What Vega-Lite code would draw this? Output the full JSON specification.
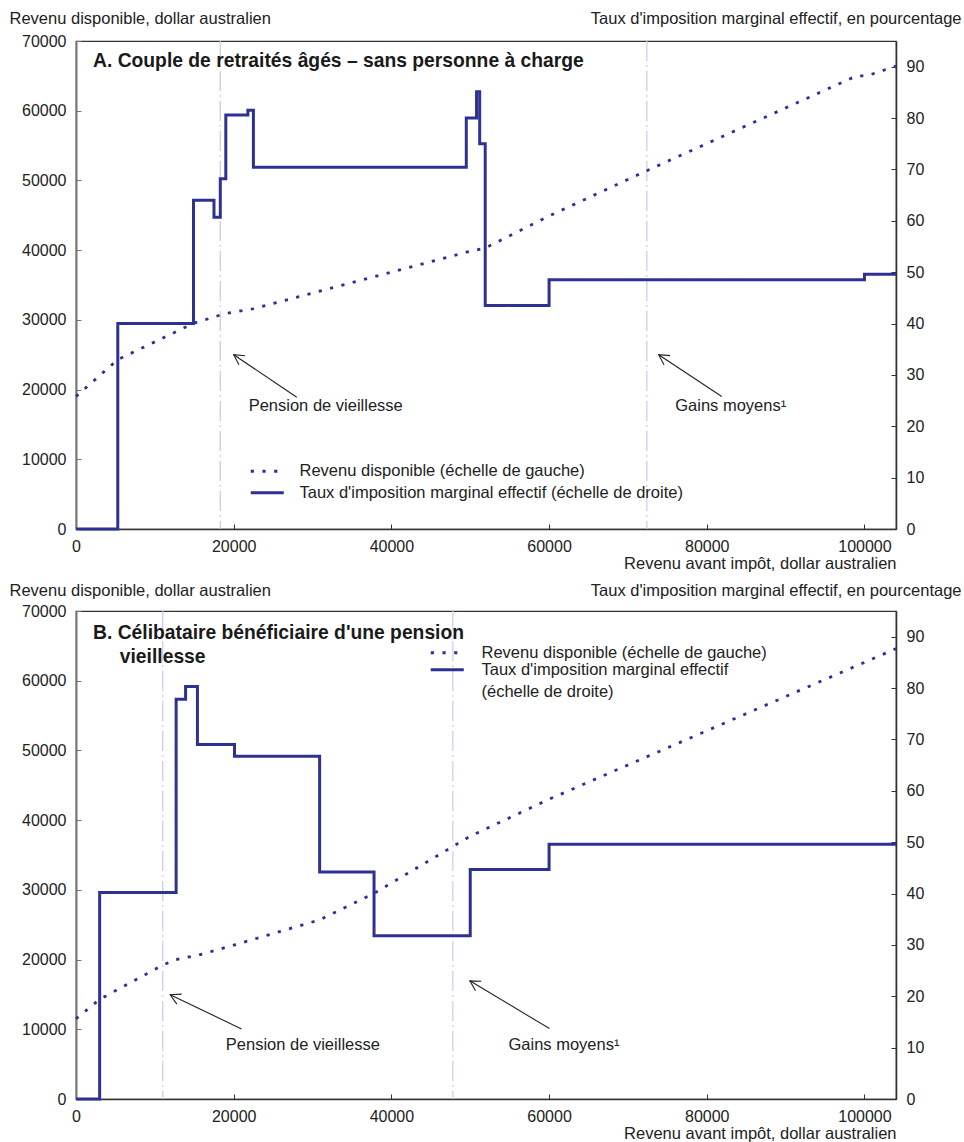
{
  "$schema": "https://vega.github.io/schema/vega-lite/v6.json",
  "background": "white",
  "padding": {"left": 8, "top": 9, "right": 4, "bottom": 4},
  "bounds": "flush",
  "spacing": 82,
  "datasets": {
    "revenu": [
      {"p": "A", "avant": 0, "disponible": 19000},
      {"p": "A", "avant": 5300, "disponible": 24300},
      {"p": "A", "avant": 14900, "disponible": 29500},
      {"p": "A", "avant": 17500, "disponible": 30400},
      {"p": "A", "avant": 18300, "disponible": 30700},
      {"p": "A", "avant": 19000, "disponible": 30900},
      {"p": "A", "avant": 22500, "disponible": 31600},
      {"p": "A", "avant": 49500, "disponible": 39700},
      {"p": "A", "avant": 51900, "disponible": 40300},
      {"p": "A", "avant": 60000, "disponible": 44900},
      {"p": "A", "avant": 72400, "disponible": 51400},
      {"p": "A", "avant": 99000, "disponible": 65000},
      {"p": "A", "avant": 100300, "disponible": 65000},
      {"p": "A", "avant": 104000, "disponible": 66400},
      {"p": "B", "avant": 0, "disponible": 11500},
      {"p": "B", "avant": 3000, "disponible": 14300},
      {"p": "B", "avant": 11000, "disponible": 19200},
      {"p": "B", "avant": 12700, "disponible": 20000},
      {"p": "B", "avant": 13900, "disponible": 20300},
      {"p": "B", "avant": 15400, "disponible": 20600},
      {"p": "B", "avant": 20100, "disponible": 22100},
      {"p": "B", "avant": 30900, "disponible": 25700},
      {"p": "B", "avant": 37800, "disponible": 29500},
      {"p": "B", "avant": 50000, "disponible": 37700},
      {"p": "B", "avant": 60000, "disponible": 43000},
      {"p": "B", "avant": 104000, "disponible": 64600}
    ],
    "taux": [
      {"p": "A", "avant": 0, "taux": 0},
      {"p": "A", "avant": 5300, "taux": 40},
      {"p": "A", "avant": 14900, "taux": 64},
      {"p": "A", "avant": 17500, "taux": 60.7},
      {"p": "A", "avant": 18300, "taux": 68.2},
      {"p": "A", "avant": 19000, "taux": 80.6},
      {"p": "A", "avant": 21800, "taux": 81.5},
      {"p": "A", "avant": 22500, "taux": 70.4},
      {"p": "A", "avant": 49500, "taux": 80},
      {"p": "A", "avant": 50800, "taux": 85.1},
      {"p": "A", "avant": 51200, "taux": 75},
      {"p": "A", "avant": 51900, "taux": 43.5},
      {"p": "A", "avant": 60000, "taux": 48.5},
      {"p": "A", "avant": 100000, "taux": 49.6},
      {"p": "A", "avant": 104000, "taux": 49.6},
      {"p": "B", "avant": 0, "taux": 0},
      {"p": "B", "avant": 3000, "taux": 40.2},
      {"p": "B", "avant": 12700, "taux": 77.8},
      {"p": "B", "avant": 13900, "taux": 80.3},
      {"p": "B", "avant": 15400, "taux": 69},
      {"p": "B", "avant": 20100, "taux": 66.7},
      {"p": "B", "avant": 30900, "taux": 44.2},
      {"p": "B", "avant": 37800, "taux": 31.8},
      {"p": "B", "avant": 50000, "taux": 44.7},
      {"p": "B", "avant": 60000, "taux": 49.6},
      {"p": "B", "avant": 104000, "taux": 49.6}
    ],
    "reperes": [
      {"p": "A", "nom": "Pension de vieillesse", "avant": 18300},
      {"p": "A", "nom": "Gains moyens", "avant": 72400},
      {"p": "B", "nom": "Pension de vieillesse", "avant": 11000},
      {"p": "B", "nom": "Gains moyens", "avant": 47800}
    ],
    "notes": [
      {"p": "A", "texte": "Pension de vieillesse", "x": 21900, "y": 17700, "queue_x": 28000, "queue_y": 18900, "pointe_x": 20000, "pointe_y": 25000},
      {"p": "A", "texte": "Gains moyens¹", "x": 76000, "y": 17700, "queue_x": 81900, "queue_y": 19000, "pointe_x": 73900, "pointe_y": 25000},
      {"p": "B", "texte": "Pension de vieillesse", "x": 19000, "y": 7800, "queue_x": 21000, "queue_y": 10050, "pointe_x": 11950, "pointe_y": 14950},
      {"p": "B", "texte": "Gains moyens¹", "x": 54850, "y": 7800, "queue_x": 60050, "queue_y": 10100, "pointe_x": 49950, "pointe_y": 16950}
    ]
  },
  "vconcat": [
    {
      "width": 820,
      "height": 488,
      "title": {
        "text": "A. Couple de retraités âgés – sans personne à charge",
        "anchor": "start", "frame": "group", "orient": "top",
        "baseline": "top", "offset": 0, "dx": 17, "dy": 61,
        "fontSize": 19.3, "fontWeight": "bold", "color": "#1a1a1a"
      },
      "layer": [
        {
          "data": {"name": "reperes"},
          "transform": [{"filter": "datum.p == 'A'"}],
          "mark": {"type": "rule", "stroke": "#c9c9ea", "strokeWidth": 1.2, "strokeDash": [20, 4, 2, 4]},
          "encoding": {
            "x": {
              "field": "avant", "type": "quantitative",
              "scale": {"domain": [0, 104000], "nice": false, "zero": false},
              "axis": {
                "values": [0, 20000, 40000, 60000, 80000, 100000], "format": "d",
                "title": "Revenu avant impôt, dollar australien",
                "titleAlign": "right", "titleBaseline": "middle", "titleX": 820, "titleY": 34,
                "domainColor": "#333", "domainWidth": 1.6, "tickColor": "#333", "tickSize": -5, "labelPadding": 14
              }
            }
          }
        },
        {
          "data": {"name": "revenu"},
          "transform": [{"filter": "datum.p == 'A'"}],
          "mark": {"type": "line", "stroke": "#2d3192", "strokeWidth": 2.8},
          "encoding": {
            "x": {"field": "avant", "type": "quantitative"},
            "y": {
              "field": "disponible", "type": "quantitative",
              "scale": {"domain": [0, 70000], "nice": false, "zero": false},
              "axis": {
                "orient": "left", "values": [0, 10000, 20000, 30000, 40000, 50000, 60000, 70000], "format": "d",
                "title": "Revenu disponible, dollar australien",
                "titleAngle": 0, "titleAlign": "left", "titleBaseline": "middle", "titleX": -67, "titleY": -22.7,
                "domainColor": "#777", "domainWidth": 2, "tickColor": "#777", "tickSize": -5, "labelPadding": 15
              }
            },
            "strokeDash": {
              "datum": "Revenu disponible (échelle de gauche)",
              "scale": {
                "domain": ["Revenu disponible (échelle de gauche)", "Taux d'imposition marginal effectif (échelle de droite)"],
                "range": [[3.2, 8.5], [1, 0]]
              },
              "legend": {
                "title": null, "orient": "none", "legendX": 183, "legendY": 422, "direction": "vertical",
                "symbolType": "M-3.3,0H3.3", "symbolSize": 100, "symbolStrokeWidth": 3, "symbolStrokeColor": "#2d3192",
                "labelOffset": 24, "labelLimit": 700, "rowPadding": 4.4, "padding": 0
              }
            }
          }
        },
        {
          "data": {"name": "taux"},
          "transform": [{"filter": "datum.p == 'A'"}],
          "mark": {"type": "line", "interpolate": "step-after", "stroke": "#2d3192", "strokeWidth": 3},
          "encoding": {
            "x": {"field": "avant", "type": "quantitative"},
            "y": {
              "field": "taux", "type": "quantitative",
              "scale": {"domain": [0, 95], "nice": false, "zero": false},
              "axis": {
                "orient": "right", "values": [0, 10, 20, 30, 40, 50, 60, 70, 80, 90], "format": "d",
                "title": "Taux d'imposition marginal effectif, en pourcentage",
                "titleAngle": 0, "titleAlign": "right", "titleBaseline": "middle", "titleX": 65, "titleY": -22.7,
                "domainColor": "#333", "domainWidth": 1.6, "tickColor": "#333", "tickSize": -5, "labelPadding": 15
              }
            },
            "strokeDash": {"datum": "Taux d'imposition marginal effectif (échelle de droite)"}
          }
        },
        {
          "data": {"name": "notes"},
          "transform": [{"filter": "datum.p == 'A'"}],
          "mark": {"type": "rule", "stroke": "#222", "strokeWidth": 1.1},
          "encoding": {
            "x": {"field": "queue_x", "type": "quantitative"},
            "x2": {"field": "pointe_x"},
            "y": {"field": "queue_y", "type": "quantitative", "scale": {"domain": [0, 70000], "nice": false, "zero": false}, "axis": null},
            "y2": {"field": "pointe_y"}
          }
        },
        {
          "data": {"name": "notes"},
          "transform": [{"filter": "datum.p == 'A' && datum.texte == 'Pension de vieillesse'"}],
          "mark": {"type": "point", "shape": "M-1,-0.55L0,0L-1,0.55", "size": 400, "filled": false, "stroke": "#222", "strokeWidth": 1.1, "opacity": 1, "angle": 213.8},
          "encoding": {
            "x": {"field": "pointe_x", "type": "quantitative"},
            "y": {"field": "pointe_y", "type": "quantitative", "scale": {"domain": [0, 70000], "nice": false, "zero": false}, "axis": null}
          }
        },
        {
          "data": {"name": "notes"},
          "transform": [{"filter": "datum.p == 'A' && datum.texte != 'Pension de vieillesse'"}],
          "mark": {"type": "point", "shape": "M-1,-0.55L0,0L-1,0.55", "size": 400, "filled": false, "stroke": "#222", "strokeWidth": 1.1, "opacity": 1, "angle": 213.3},
          "encoding": {
            "x": {"field": "pointe_x", "type": "quantitative"},
            "y": {"field": "pointe_y", "type": "quantitative", "scale": {"domain": [0, 70000], "nice": false, "zero": false}, "axis": null}
          }
        },
        {
          "data": {"name": "notes"},
          "transform": [{"filter": "datum.p == 'A'"}],
          "mark": {"type": "text", "align": "left", "baseline": "middle", "fontSize": 16.5, "color": "#222"},
          "encoding": {
            "x": {"field": "x", "type": "quantitative"},
            "y": {"field": "y", "type": "quantitative", "scale": {"domain": [0, 70000], "nice": false, "zero": false}, "axis": null},
            "text": {"field": "texte"}
          }
        }
      ],
      "resolve": {"scale": {"y": "independent"}, "axis": {"y": "independent"}}
    },
    {
      "width": 820,
      "height": 488,
      "title": {
        "text": ["B. Célibataire bénéficiaire d'une pension", "\u200b\u00a0\u00a0\u00a0\u00a0\u00a0vieillesse"],
        "anchor": "start", "frame": "group", "orient": "top",
        "baseline": "top", "offset": 0, "dx": 17, "dy": 85, "lineHeight": 24,
        "fontSize": 19.3, "fontWeight": "bold", "color": "#1a1a1a"
      },
      "layer": [
        {
          "data": {"name": "reperes"},
          "transform": [{"filter": "datum.p == 'B'"}],
          "mark": {"type": "rule", "stroke": "#c9c9ea", "strokeWidth": 1.2, "strokeDash": [20, 4, 2, 4]},
          "encoding": {
            "x": {
              "field": "avant", "type": "quantitative",
              "scale": {"domain": [0, 104000], "nice": false, "zero": false},
              "axis": {
                "values": [0, 20000, 40000, 60000, 80000, 100000], "format": "d",
                "title": "Revenu avant impôt, dollar australien",
                "titleAlign": "right", "titleBaseline": "middle", "titleX": 820, "titleY": 34,
                "domainColor": "#333", "domainWidth": 1.6, "tickColor": "#333", "tickSize": -5, "labelPadding": 14
              }
            }
          }
        },
        {
          "data": {"name": "revenu"},
          "transform": [{"filter": "datum.p == 'B'"}],
          "mark": {"type": "line", "stroke": "#2d3192", "strokeWidth": 2.8},
          "encoding": {
            "x": {"field": "avant", "type": "quantitative"},
            "y": {
              "field": "disponible", "type": "quantitative",
              "scale": {"domain": [0, 70000], "nice": false, "zero": false},
              "axis": {
                "orient": "left", "values": [0, 10000, 20000, 30000, 40000, 50000, 60000, 70000], "format": "d",
                "title": "Revenu disponible, dollar australien",
                "titleAngle": 0, "titleAlign": "left", "titleBaseline": "middle", "titleX": -67, "titleY": -21,
                "domainColor": "#777", "domainWidth": 2, "tickColor": "#777", "tickSize": -5, "labelPadding": 15
              }
            },
            "strokeDash": {
              "datum": "Revenu disponible (échelle de gauche)",
              "scale": {
                "domain": ["Revenu disponible (échelle de gauche)", "Taux d'imposition marginal effectif (échelle de droite)"],
                "range": [[3.2, 8.5], [1, 0]]
              },
              "legend": {
                "title": null, "orient": "none", "legendX": 363, "legendY": 33.5, "direction": "vertical",
                "symbolType": "M-3.3,0H3.3", "symbolSize": 100, "symbolStrokeWidth": 3, "symbolStrokeColor": "#2d3192",
                "labelOffset": 26, "labelLimit": 700, "rowPadding": 0, "padding": 0,
                "labelExpr": "indexof(datum.label, 'Taux') == 0 ? [\"Taux d'imposition marginal effectif\", \"(échelle de droite)\"] : datum.label",
                "encode": {"labels": {"update": {"lineHeight": {"value": 22.4}}}}
              }
            }
          }
        },
        {
          "data": {"name": "taux"},
          "transform": [{"filter": "datum.p == 'B'"}],
          "mark": {"type": "line", "interpolate": "step-after", "stroke": "#2d3192", "strokeWidth": 3},
          "encoding": {
            "x": {"field": "avant", "type": "quantitative"},
            "y": {
              "field": "taux", "type": "quantitative",
              "scale": {"domain": [0, 95], "nice": false, "zero": false},
              "axis": {
                "orient": "right", "values": [0, 10, 20, 30, 40, 50, 60, 70, 80, 90], "format": "d",
                "title": "Taux d'imposition marginal effectif, en pourcentage",
                "titleAngle": 0, "titleAlign": "right", "titleBaseline": "middle", "titleX": 65, "titleY": -21,
                "domainColor": "#333", "domainWidth": 1.6, "tickColor": "#333", "tickSize": -5, "labelPadding": 15
              }
            },
            "strokeDash": {"datum": "Taux d'imposition marginal effectif (échelle de droite)"}
          }
        },
        {
          "data": {"name": "notes"},
          "transform": [{"filter": "datum.p == 'B'"}],
          "mark": {"type": "rule", "stroke": "#222", "strokeWidth": 1.1},
          "encoding": {
            "x": {"field": "queue_x", "type": "quantitative"},
            "x2": {"field": "pointe_x"},
            "y": {"field": "queue_y", "type": "quantitative", "scale": {"domain": [0, 70000], "nice": false, "zero": false}, "axis": null},
            "y2": {"field": "pointe_y"}
          }
        },
        {
          "data": {"name": "notes"},
          "transform": [{"filter": "datum.p == 'B' && datum.texte == 'Pension de vieillesse'"}],
          "mark": {"type": "point", "shape": "M-1,-0.55L0,0L-1,0.55", "size": 400, "filled": false, "stroke": "#222", "strokeWidth": 1.1, "opacity": 1, "angle": 205.6},
          "encoding": {
            "x": {"field": "pointe_x", "type": "quantitative"},
            "y": {"field": "pointe_y", "type": "quantitative", "scale": {"domain": [0, 70000], "nice": false, "zero": false}, "axis": null}
          }
        },
        {
          "data": {"name": "notes"},
          "transform": [{"filter": "datum.p == 'B' && datum.texte != 'Pension de vieillesse'"}],
          "mark": {"type": "point", "shape": "M-1,-0.55L0,0L-1,0.55", "size": 400, "filled": false, "stroke": "#222", "strokeWidth": 1.1, "opacity": 1, "angle": 211.1},
          "encoding": {
            "x": {"field": "pointe_x", "type": "quantitative"},
            "y": {"field": "pointe_y", "type": "quantitative", "scale": {"domain": [0, 70000], "nice": false, "zero": false}, "axis": null}
          }
        },
        {
          "data": {"name": "notes"},
          "transform": [{"filter": "datum.p == 'B'"}],
          "mark": {"type": "text", "align": "left", "baseline": "middle", "fontSize": 16.5, "color": "#222"},
          "encoding": {
            "x": {"field": "x", "type": "quantitative"},
            "y": {"field": "y", "type": "quantitative", "scale": {"domain": [0, 70000], "nice": false, "zero": false}, "axis": null},
            "text": {"field": "texte"}
          }
        }
      ],
      "resolve": {"scale": {"y": "independent"}, "axis": {"y": "independent"}}
    }
  ],
  "resolve": {
    "scale": {"x": "independent", "y": "independent", "strokeDash": "independent"},
    "legend": {"strokeDash": "independent"}
  },
  "config": {
    "font": "Liberation Sans",
    "view": {"stroke": "#333", "strokeWidth": 1.2},
    "axis": {
      "grid": false,
      "labelFont": "Liberation Sans", "labelFontSize": 16, "labelColor": "#222",
      "titleFont": "Liberation Sans", "titleFontSize": 16.5, "titleFontWeight": "normal", "titleColor": "#222",
      "labelOverlap": false, "labelFlush": false
    },
    "legend": {
      "labelFont": "Liberation Sans", "labelFontSize": 16.5, "labelColor": "#222"
    },
    "title": {"font": "Liberation Sans"},
    "text": {"font": "Liberation Sans"}
  }
}
